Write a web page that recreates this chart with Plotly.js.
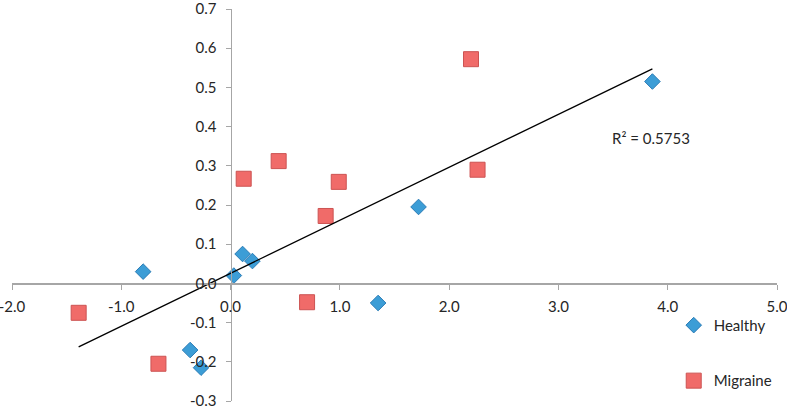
<!DOCTYPE html>
<html>
<head>
<meta charset="utf-8">
<script src="https://cdn.plot.ly/plotly-3.0.1.min.js"></script>
<style>html,body{margin:0;padding:0;background:#fff;}#chart{width:787px;height:409px;}</style>
</head>
<body>
<div id="chart"></div>
<script>
// Data
const healthyX = [-0.80, 0.11, 0.20, 0.03, 1.35, -0.37, -0.27, 1.72, 3.86];
const healthyY = [0.030, 0.075, 0.057, 0.020, -0.050, -0.170, -0.215, 0.195, 0.515];
const migraineX = [0.12, 0.44, 0.99, 0.87, 0.70, -1.39, -0.66, 2.20, 2.26];
const migraineY = [0.267, 0.312, 0.259, 0.172, -0.048, -0.075, -0.205, 0.572, 0.290];
const seriesNames = ["Healthy", "Migraine"];
const r2Label = "R\u00b2 = 0.5753";
const xTickVals = [-2, -1, 0, 1, 2, 3, 4, 5];
const xTickText = ["-2.0", "-1.0", "0.0", "1.0", "2.0", "3.0", "4.0", "5.0"];
const yTickVals = [-0.3, -0.2, -0.1, 0, 0.1, 0.2, 0.3, 0.4, 0.5, 0.6, 0.7];
const yTickText = ["-0.3", "-0.2", "-0.1", "0.0", "0.1", "0.2", "0.3", "0.4", "0.5", "0.6", "0.7"];

// Linear trend line over all points (least squares)
const allX = healthyX.concat(migraineX);
const allY = healthyY.concat(migraineY);
const n = allX.length;
const mx = allX.reduce((a, b) => a + b, 0) / n;
const my = allY.reduce((a, b) => a + b, 0) / n;
let sxy = 0, sxx = 0;
for (let i = 0; i < n; i++) { sxy += (allX[i] - mx) * (allY[i] - my); sxx += (allX[i] - mx) ** 2; }
const slope = sxy / sxx;
const intercept = my - slope * mx;
const tx = [Math.min(...allX), Math.max(...allX)];
const ty = tx.map(x => intercept + slope * x);

const FONT = "Lato, 'Open Sans', sans-serif";
const FS = 15;
const traces = [
  {
    x: healthyX, y: healthyY, type: "scatter", mode: "markers", name: seriesNames[0],
    legendgroup: "h",
    marker: { symbol: "diamond", size: 12, color: "#3c9dd6", line: { color: "#2b7cb6", width: 1 } }
  },
  {
    x: migraineX, y: migraineY, type: "scatter", mode: "markers", name: seriesNames[1],
    legendgroup: "m",
    marker: { symbol: "square", size: 15, color: "#f06b69", line: { color: "#cc5352", width: 1 } }
  },
  {
    x: tx, y: ty, type: "scatter", mode: "lines", showlegend: false,
    line: { color: "#000000", width: 1.3 }, hoverinfo: "skip"
  }
];

const axisCommon = {
  showgrid: false, zeroline: false, showline: true, linecolor: "#a6a6a6", linewidth: 1.3,
  ticks: "outside", ticklen: 5, tickcolor: "#a6a6a6", tickmode: "array",
  ticklabeloverflow: "allow",
  tickfont: { family: FONT, size: FS, color: "#262626" }, anchor: "free"
};

const layout = {
  width: 787, height: 409,
  margin: { l: 12, r: 10, t: 9, b: 8 },
  paper_bgcolor: "#ffffff", plot_bgcolor: "#ffffff",
  font: { family: FONT, size: FS, color: "#262626" },
  xaxis: Object.assign({}, axisCommon, { range: [-2, 5], tickvals: xTickVals, ticktext: xTickText, position: 0.3, ticklabelstandoff: 4 }),
  yaxis: Object.assign({}, axisCommon, { range: [-0.3, 0.7], tickvals: yTickVals, ticktext: yTickText, position: 2 / 7, ticklabelstandoff: 6 }),
  showlegend: true,
  legend: {
    x: 0.865, y: 0.235, xanchor: "left", yanchor: "top",
    traceorder: "grouped", tracegroupgap: 33,
    bgcolor: "rgba(0,0,0,0)", font: { family: FONT, size: FS, color: "#262626" },
    itemwidth: 30
  },
  annotations: [{
    x: 3.846, y: 0.371, xref: "x", yref: "y", text: r2Label, showarrow: false,
    font: { family: FONT, size: FS, color: "#262626" }
  }]
};

Plotly.newPlot("chart", traces, layout, { displayModeBar: false, staticPlot: true });
</script>
</body>
</html>
